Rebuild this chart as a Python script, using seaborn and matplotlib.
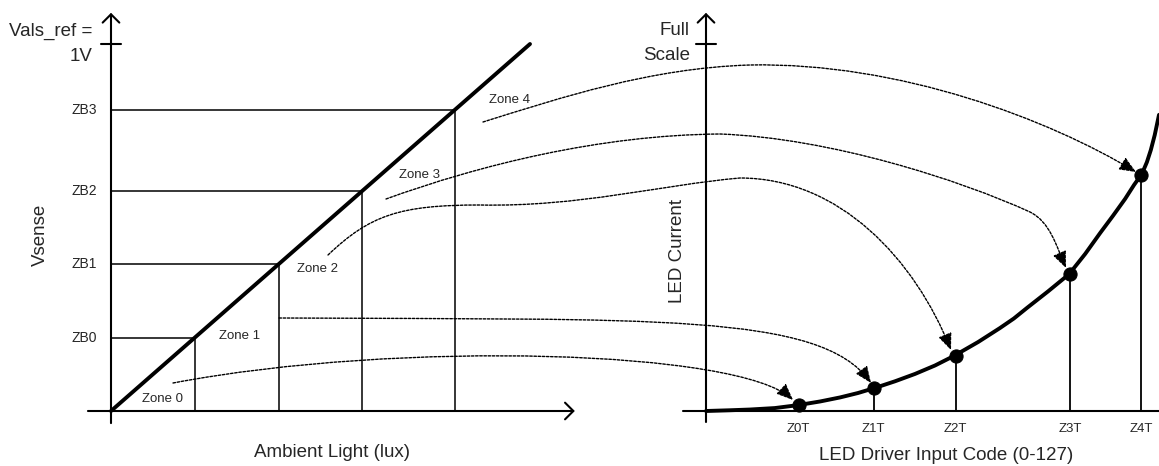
import matplotlib
matplotlib.use("Agg")
import matplotlib.pyplot as plt
import seaborn as sns
import pandas as pd
from matplotlib.path import Path
from matplotlib.patches import FancyArrowPatch

# data
zb_labels = ["ZB0", "ZB1", "ZB2", "ZB3"]
zb_levels = [0.20, 0.40, 0.60, 0.82]

zone_labels = ["Zone 0", "Zone 1", "Zone 2", "Zone 3", "Zone 4"]
zone_label_lux = [0.122, 0.308, 0.494, 0.737, 0.952]
zone_label_v = [0.033, 0.204, 0.387, 0.643, 0.847]

diag_lux = [0.0, 1.0]
diag_v = [0.0, 1.0]

code_labels = ["Z0T", "Z1T", "Z2T", "Z3T", "Z4T"]
zone_codes = [26, 47, 70, 102, 122]
zone_currents = [0.016, 0.063, 0.150, 0.373, 0.643]

curve_code = [0, 6.7, 12.3, 19.3, 25.8, 32.0, 37.6, 42.6, 47.4, 53.0, 58.6,
              64.2, 69.5, 76.3, 82.4, 86.3, 90.0, 95.9, 101.8, 106.3, 110.5,
              114.1, 117.5, 120.0, 122.2, 123.6, 124.7, 125.8, 127.0]
curve_current = [0.0, 0.002, 0.004, 0.008, 0.016, 0.026, 0.037, 0.049, 0.063,
                 0.081, 0.101, 0.124, 0.150, 0.188, 0.226, 0.252, 0.281, 0.326,
                 0.373, 0.428, 0.485, 0.532, 0.578, 0.616, 0.646, 0.678, 0.711,
                 0.752, 0.807]

# dotted zone -> code connectors (cubic bezier points, figure pixels)
connectors = [
    [(173, 383), (400, 340), (740, 350), (793, 400)],
    [(279, 318), (650, 320), (820, 312), (871, 383)],
    [(328, 255), (370, 215), (400, 205), (480, 205), (580, 207), (660, 185),
     (740, 178), (840, 178), (915, 260), (951, 350)],
    [(386, 199), (480, 165), (600, 135), (720, 134), (830, 138), (960, 180),
     (1030, 212), (1050, 222), (1056, 245), (1066, 268)],
    [(483, 122), (560, 98), (650, 68), (750, 65), (900, 62), (1050, 120),
     (1136, 172)],
]

sns.set_style("white")
plt.rcParams["font.family"] = ["Liberation Sans", "DejaVu Sans"]

W, H = 1159, 466
fig = plt.figure(figsize=(W / 100, H / 100), dpi=100)

# left panel: origin at px (111, 411), 419 px per lux unit, 367 px per volt
ax1 = fig.add_axes([0, 0, 600 / W, 1])
ax1.set_xlim((0 - 111) / 419, (600 - 111) / 419)
ax1.set_ylim((411 - 466) / 367, 411 / 367)
# right panel: origin at px (706, 411), 3.567 px per code
ax2 = fig.add_axes([600 / W, 0, (W - 600) / W, 1])
ax2.set_xlim((600 - 706) / 3.567, (W - 706) / 3.567)
ax2.set_ylim((411 - 466) / 367, 411 / 367)
for ax in (ax1, ax2):
    ax.set_axis_off()

k = "black"
axis_lw = 1.5
arrow_head = dict(arrowstyle="->,head_length=0.6,head_width=0.6", lw=axis_lw,
                  color=k, mutation_scale=10, shrinkA=0, shrinkB=0)

# ---- left panel ----
ax1.annotate("", xy=(1.107, 0), xytext=(-0.055, 0), arrowprops=arrow_head)
ax1.annotate("", xy=(0, 1.085), xytext=(0, -0.033), arrowprops=arrow_head)
ax1.plot([-0.024, 0.024], [1.0, 1.0], color=k, lw=axis_lw)

ax1.hlines(zb_levels, 0, zb_levels, color=k, lw=1.1)
ax1.vlines(zb_levels, 0, zb_levels, color=k, lw=1.1)
sns.lineplot(x=diag_lux, y=diag_v, ax=ax1, color=k, lw=2.8, zorder=4)

for lab, lv in zip(zb_labels, zb_levels):
    ax1.text(-0.033, lv, lab, ha="right", va="center", fontsize=10)
for lab, x, y in zip(zone_labels, zone_label_lux, zone_label_v):
    ax1.text(x, y, lab, ha="center", va="center", fontsize=9.5)

ax1.text(-0.045, 1.033, "Vals_ref =", ha="right", va="center", fontsize=13.5)
ax1.text(-0.045, 0.965, "1V", ha="right", va="center", fontsize=13.5)
ax1.text(-0.169, 0.48, "Vsense", ha="center", va="center", rotation=90, fontsize=13.5)
ax1.text(0.527, -0.114, "Ambient Light (lux)", ha="center", va="center", fontsize=13.5)

# ---- right panel ----
ax2.plot([-6.4, 127], [0, 0], color=k, lw=axis_lw)
ax2.annotate("", xy=(0, 1.085), xytext=(0, -0.03), arrowprops=arrow_head)
ax2.plot([-2.8, 2.8], [1.0, 1.0], color=k, lw=axis_lw)

ax2.vlines(zone_codes, 0, zone_currents, color=k, lw=1.3)
curve = pd.DataFrame({"code": curve_code, "current": curve_current})
sns.lineplot(data=curve, x="code", y="current", ax=ax2, color=k, lw=2.8,
             zorder=4, sort=True, errorbar=None)
dots = pd.DataFrame({"code": zone_codes, "current": zone_currents})
sns.scatterplot(data=dots, x="code", y="current", ax=ax2, color=k, s=90,
                edgecolor=k, zorder=5)
ax2.set_axis_off()

for lab, c in zip(code_labels, zone_codes):
    ax2.text(c, -0.048, lab, ha="center", va="center", fontsize=9.5)

ax2.text(-4.5, 1.036, "Full", ha="right", va="center", fontsize=13.5)
ax2.text(-4.5, 0.970, "Scale", ha="right", va="center", fontsize=13.5)
ax2.text(-7.85, 0.436, "LED Current", ha="center", va="center", rotation=90, fontsize=13.5)
ax2.text(67.3, -0.12, "LED Driver Input Code (0-127)", ha="center", va="center", fontsize=13.5)

# ---- connectors overlay ----
ov = fig.add_axes([0, 0, 1, 1], zorder=6)
ov.set_xlim(0, W)
ov.set_ylim(H, 0)
ov.set_axis_off()
for pts in connectors:
    codes = [Path.MOVETO] + [Path.CURVE4] * (len(pts) - 1)
    arr = FancyArrowPatch(path=Path(pts, codes),
                          arrowstyle="-|>,head_length=1.0,head_width=0.42",
                          mutation_scale=10, color=k, lw=1.0,
                          linestyle=(0, (1.8, 1.2)))
    ov.add_patch(arr)

fig.savefig("out.png", dpi=100)
